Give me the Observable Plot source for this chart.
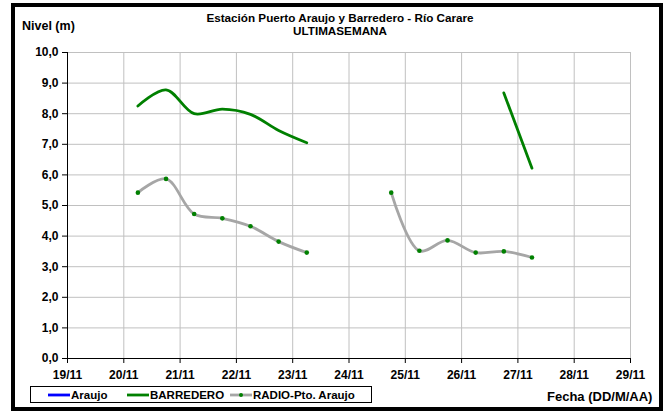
<!DOCTYPE html>
<html>
<head>
<meta charset="utf-8">
<script src="https://cdn.jsdelivr.net/npm/d3@7"></script>
<script src="https://cdn.jsdelivr.net/npm/@observablehq/plot@0.6"></script>
<style>
  body { margin: 0; background: white; }
  #page { position: relative; width: 666px; height: 413px; overflow: hidden; background: white;
          font-family: "Liberation Sans", Arial, sans-serif; font-weight: bold; color: #000; }
  #border { position: absolute; left: 11px; top: 3px; width: 652px; height: 408px; border: 4px solid #000; box-sizing: border-box; }
  .abs { position: absolute; white-space: nowrap; }
  #title { left: 0; width: 680px; top: 11px; text-align: center; font-size: 11.7px; line-height: 13px; }
  #ylabel { left: 22px; top: 19px; font-size: 12.5px; }
  #xlabel { left: 547px; top: 389px; font-size: 13px; }
  #legend { left: 30px; top: 386px; width: 342px; height: 17px; border: 1px solid #000; box-sizing: border-box; font-size: 11.5px; }
  .item { position: absolute; top: 1px; display: flex; align-items: center; height: 14px; }
  .item svg { margin-right: 1px; }
</style>
</head>
<body>
<div id="page">
  <div id="border"></div>
  <div id="chart" class="abs" style="left:0;top:0"></div>
  <div id="title" class="abs">Estación Puerto Araujo y Barredero - Río Carare<br>ULTIMASEMANA</div>
  <div id="ylabel" class="abs">Nivel (m)</div>
  <div id="legend" class="abs"></div>
  <div id="xlabel" class="abs">Fecha (DD/M/AA)</div>
</div>
<script>
// ---- data ----
const times = [
  "2011-11-20T06:00Z", "2011-11-20T18:00Z", "2011-11-21T06:00Z", "2011-11-21T18:00Z",
  "2011-11-22T06:00Z", "2011-11-22T18:00Z", "2011-11-23T06:00Z",
  "2011-11-24T18:00Z", "2011-11-25T06:00Z", "2011-11-25T18:00Z", "2011-11-26T06:00Z",
  "2011-11-26T18:00Z", "2011-11-27T06:00Z"
];
const segment = [1, 1, 1, 1, 1, 1, 1, 2, 2, 2, 2, 2, 2];
const araujo = [null, null, null, null, null, null, null, null, null, null, null, null, null];
const barredero = [8.25, 8.78, 8.00, 8.15, 7.98, 7.45, 7.05, null, null, null, null, 8.68, 6.22];
const radioPtoAraujo = [5.42, 5.87, 4.72, 4.58, 4.32, 3.82, 3.46, 5.42, 3.52, 3.86, 3.46, 3.50, 3.30];
const seriesNames = ["Araujo", "BARREDERO", "RADIO-Pto. Araujo"];
const seriesColors = ["#0000ff", "#008000", "#a6a6a6"];
const markerColor = "#008000";
const xStart = "2011-11-19T00:00Z", xEnd = "2011-11-29T00:00Z";
const yTicks = [0, 1, 2, 3, 4, 5, 6, 7, 8, 9, 10];

// ---- build table ----
const rows = times.map((t, i) => ({
  t: new Date(t), seg: segment[i],
  araujo: araujo[i], barredero: barredero[i], radio: radioPtoAraujo[i]
}));
const xTicks = d3.utcDay.range(new Date(xStart), d3.utcDay.offset(new Date(xEnd), 1));
const fmtY = d => d.toFixed(1).replace(".", ",");
const fmtX = d3.utcFormat("%d/%m");

const chart = Plot.plot({
  width: 666,
  height: 385,
  marginLeft: 67,
  marginRight: 36,
  marginTop: 52,
  marginBottom: 27,
  style: { fontFamily: '"Liberation Sans", Arial, sans-serif', fontSize: "12px", fontWeight: "bold", color: "#000", background: "transparent" },
  x: { type: "utc", domain: [new Date(xStart), new Date(xEnd)] },
  y: { domain: [0, 10] },
  marks: [
    Plot.gridY(yTicks, { stroke: "#c0c0c0", strokeOpacity: 1, strokeWidth: 1 }),
    Plot.gridX(xTicks, { stroke: "#c0c0c0", strokeOpacity: 1, strokeWidth: 1 }),
    Plot.axisY(yTicks, { tickFormat: fmtY, tickSize: 5, tickPadding: 4, label: null, stroke: "#000" }),
    Plot.axisX(xTicks, { tickFormat: fmtX, tickSize: 5, tickPadding: 7, label: null, stroke: "#000" }),
    Plot.ruleY([0], { stroke: "#000" }),
    Plot.ruleX([new Date(xStart)], { stroke: "#000" }),
    Plot.line(rows, { x: "t", y: "araujo", z: "seg", stroke: seriesColors[0], strokeWidth: 2.5, curve: "catmull-rom" }),
    Plot.line(rows, { x: "t", y: "barredero", z: "seg", stroke: seriesColors[1], strokeWidth: 2.8, curve: "catmull-rom" }),
    Plot.line(rows, { x: "t", y: "radio", z: "seg", stroke: seriesColors[2], strokeWidth: 2.8, curve: "catmull-rom" }),
    Plot.dot(rows, { x: "t", y: "radio", r: 2.3, fill: markerColor, stroke: null })
  ]
});
document.getElementById("chart").appendChild(chart);

// ---- legend ----
const legend = document.getElementById("legend");
const legendX = [17, 96, 199];
seriesNames.forEach((name, i) => {
  const item = document.createElement("div");
  item.className = "item";
  item.style.left = legendX[i] + "px";
  const marker = i === 2 ? `<circle cx="11" cy="5" r="2" fill="${markerColor}"/>` : "";
  item.innerHTML = `<svg width="22" height="10"><line x1="0" x2="22" y1="5" y2="5" stroke="${seriesColors[i]}" stroke-width="2.8"/>${marker}</svg><span>${name}</span>`;
  legend.appendChild(item);
});
</script>
</body>
</html>
